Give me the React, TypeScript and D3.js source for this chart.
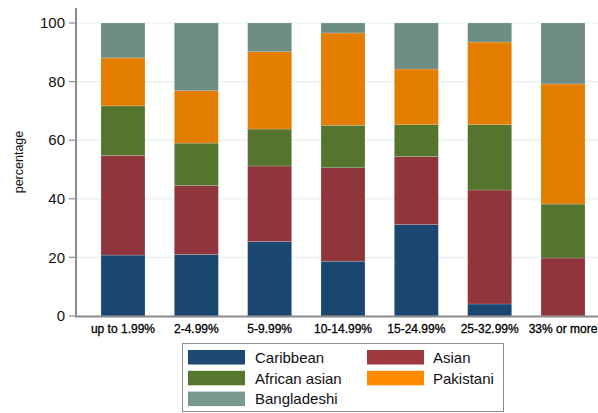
import React from "react";
import * as d3 from "d3";

const categories = ["up to 1.99%", "2-4.99%", "5-9.99%", "10-14.99%", "15-24.99%", "25-32.99%", "33% or more"];
const seriesNames = ["Caribbean", "Asian", "African asian", "Pakistani", "Bangladeshi"];
const caribbean = [20.8, 21.0, 25.4, 18.7, 31.2, 4.1, 0];
const asian = [34.0, 23.5, 25.8, 31.9, 23.2, 38.9, 19.8];
const africanAsian = [16.9, 14.5, 12.6, 14.5, 10.9, 22.3, 18.4];
const pakistani = [16.4, 17.9, 26.4, 31.5, 19.0, 28.2, 41.0];
const bangladeshi = [11.9, 23.1, 9.8, 3.4, 15.7, 6.5, 20.8];
const yTicks = [0, 20, 40, 60, 80, 100];
const colors = ["#1a476f", "#90353b", "#55752f", "#e37e00", "#6e8e84"];
const legendColors = ["#1d4a72", "#a0393f", "#58782f", "#ff8a00", "#78998e"];

const seriesValues = [caribbean, asian, africanAsian, pakistani, bangladeshi];

export default function App() {
  const W = 598, H = 413;
  const x = d3.scaleBand<string>().domain(categories).range([77, 609]).paddingInner(0.4).paddingOuter(0.327);
  const y = d3.scaleLinear().domain([0, 100]).range([316, 23]);

  const rows = categories.map((c, i) => {
    const o: any = { cat: c };
    seriesNames.forEach((s, k) => (o[s] = seriesValues[k][i]));
    return o;
  });
  const stacked = d3.stack<any>().keys(seriesNames)(rows);

  const legendItems = [
    { name: "Caribbean", col: 0, row: 0, k: 0 },
    { name: "Asian", col: 1, row: 0, k: 1 },
    { name: "African asian", col: 0, row: 1, k: 2 },
    { name: "Pakistani", col: 1, row: 1, k: 3 },
    { name: "Bangladeshi", col: 0, row: 2, k: 4 },
  ];

  return (
    <svg width={W} height={H} style={{ position: "absolute", left: 0, top: 0, background: "#fff" }} fontFamily="Liberation Sans, Arial, sans-serif">
      <rect x={0} y={0} width={W} height={H} fill="#fff" />
      {yTicks.map((t) => (
        <line key={"g" + t} x1={77} x2={W} y1={y(t)} y2={y(t)} stroke="#e6eff1" strokeWidth={1.2} />
      ))}
      {stacked.map((layer, k) => (
        <g key={layer.key}>
          {layer.map((d, i) => (
            <rect
              key={i}
              x={x(categories[i])}
              width={x.bandwidth()}
              y={y(d[1])}
              height={Math.max(0, y(d[0]) - y(d[1]))}
              fill={colors[k]}
              stroke="#dfe7e8"
              strokeOpacity={0.35}
              strokeWidth={0.6}
            />
          ))}
        </g>
      ))}
      <line x1={76} x2={76} y1={8} y2={317} stroke="#8c8c8c" strokeWidth={2} />
      <line x1={75} x2={W} y1={316.5} y2={316.5} stroke="#8c8c8c" strokeWidth={2} />
      {yTicks.map((t) => (
        <g key={"t" + t}>
          <line x1={69} x2={76} y1={y(t)} y2={y(t)} stroke="#8c8c8c" strokeWidth={1.2} />
          <text x={65} y={y(t)} dy="0.35em" textAnchor="end" fontSize={15} fill="#111">{t}</text>
        </g>
      ))}
      {categories.map((c) => (
        <text key={c} x={(x(c) as number) + x.bandwidth() / 2} y={333} textAnchor="middle" fontSize={12} fill="#000" stroke="#000" strokeWidth={0.3}>{c}</text>
      ))}
      <text transform="translate(23,162) rotate(-90)" textAnchor="middle" fontSize={12.5} fill="#111">percentage</text>
      <rect x={182.5} y={343.5} width={321} height={68} fill="#fff" stroke="#8c8c8c" strokeWidth={1} />
      {legendItems.map((it) => {
        const sx = it.col === 0 ? 188 : 367;
        const sy = 350 + it.row * 20.8;
        return (
          <g key={it.name}>
            <rect x={sx} y={sy} width={57} height={14.5} fill={legendColors[it.k]} />
            <text x={sx + (it.col === 0 ? 67 : 66)} y={sy + 7.5} dy="0.35em" fontSize={15} fill="#111">{it.name}</text>
          </g>
        );
      })}
    </svg>
  );
}
